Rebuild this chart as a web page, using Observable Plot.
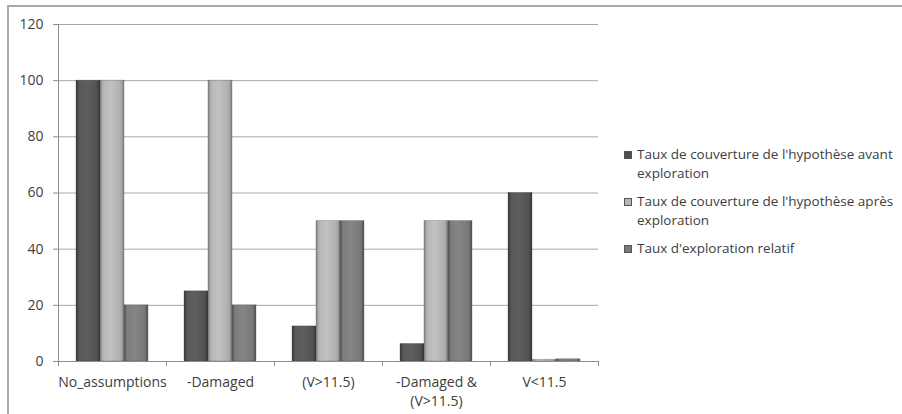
<!DOCTYPE html>
<html>
<head>
<meta charset="utf-8">
<script src="https://cdn.jsdelivr.net/npm/d3@7"></script>
<script src="https://cdn.jsdelivr.net/npm/@observablehq/plot@0.6"></script>
<style>
  html, body { margin: 0; padding: 0; background: #fff; }
  #wrap { position: relative; width: 902px; height: 414px; overflow: hidden; font-family: "Open Sans", sans-serif; }
  #border { position: absolute; left: 7px; top: 5px; width: 900px; height: 420px; border-top: 2px solid #a8a8a8; border-left: 2px solid #a8a8a8; box-sizing: border-box; }
  #chart { position: absolute; left: 0; top: 0; }
  #legend { position: absolute; left: 624px; top: 145px; width: 278px; font-size: 13.5px; color: #404040; line-height: 18.5px; }
  .item { display: flex; align-items: flex-start; margin-bottom: 10px; }
  .sw { width: 8px; height: 8px; margin-top: 6px; margin-right: 5px; flex: none; box-sizing: border-box; }
</style>
</head>
<body>
<div id="wrap">
  <div id="border"></div>
  <div id="chart"></div>
  <div id="legend"></div>
</div>
<script>
const categories = ["No_assumptions", "-Damaged", "(V>11.5)", "-Damaged & (V>11.5)", "V<11.5"];
const categoryLabels = ["No_assumptions", "-Damaged", "(V>11.5)", "-Damaged &\n(V>11.5)", "V<11.5"];
const seriesNames = [
  "Taux de couverture de l'hypothèse avant exploration",
  "Taux de couverture de l'hypothèse après exploration",
  "Taux d'exploration relatif"
];
const coverageBefore = [100, 25, 12.5, 6.25, 60];
const coverageAfter = [100, 100, 50, 50, 0.6];
const explorationRate = [20, 20, 50, 50, 0.8];
const yTicks = [0, 20, 40, 60, 80, 100, 120];

const seriesValues = [coverageBefore, coverageAfter, explorationRate];
const gradIds = ["gDark", "gLight", "gMid"];
const swatchColors = ["#4e4e4e", "#b4b4b4", "#7a7a7a"];

const data = [];
categories.forEach((c, i) => {
  seriesNames.forEach((s, j) => data.push({category: c, series: s, value: seriesValues[j][i]}));
});

const chart = Plot.plot({
  width: 902,
  height: 414,
  marginLeft: 57,
  marginRight: 303,
  marginTop: 24,
  marginBottom: 53,
  style: {fontFamily: "Open Sans, sans-serif", fontSize: "14px", color: "#404040", background: "transparent", overflow: "visible"},
  fx: {domain: categories, paddingInner: 0, paddingOuter: 0, label: null},
  x: {domain: seriesNames, paddingInner: 0, paddingOuter: 0.707, axis: null},
  y: {domain: [0, 120], label: null},
  color: {domain: seriesNames, range: gradIds.map(id => `url(#${id})`)},
  marks: [
    Plot.ruleY(yTicks.slice(1), {stroke: "#a8a8a8", strokeWidth: 1}),
    Plot.barY(data, {fx: "category", x: "series", y: "value", fill: "series", stroke: "#3a3a3a", strokeOpacity: 0.35, strokeWidth: 0.8}),
    Plot.ruleY([0], {stroke: "#8c8c8c", strokeWidth: 1}),
    Plot.axisY({ticks: yTicks, tickSize: 5, tickPadding: 10, stroke: "#8c8c8c", fill: "#404040", label: null}),
    Plot.axisFx({anchor: "bottom", tickSize: 0, tickPadding: 13, tickFormat: (d) => categoryLabels[categories.indexOf(d)], lineHeight: 1.3, fill: "#404040", label: null})
  ]
});

// gradient definitions for cylinder-like shading
const svg = d3.select(chart);
const defs = svg.insert("defs", ":first-child");
const gradStops = {
  gDark: ["#383838", "#585858", "#5f5f5f", "#525252", "#363636"],
  gLight: ["#858585", "#b6b6b6", "#c2c2c2", "#aeaeae", "#828282"],
  gMid: ["#555555", "#7e7e7e", "#868686", "#787878", "#525252"]
};
const offs = ["0%", "14%", "45%", "86%", "100%"];
for (const id of gradIds) {
  const g = defs.append("linearGradient").attr("id", id).attr("x1", "0").attr("x2", "1").attr("y1", "0").attr("y2", "0");
  gradStops[id].forEach((c, k) => g.append("stop").attr("offset", offs[k]).attr("stop-color", c));
}

// y axis line and category boundary ticks from the scales
const fx = chart.scale("fx");
const y = chart.scale("y");
const y0 = y.apply(0), yTop = y.apply(120);
const left = fx.apply(categories[0]);
const g = svg.append("g").attr("stroke", "#8c8c8c").attr("stroke-width", 1);
g.append("line").attr("x1", left + 0.5).attr("x2", left + 0.5).attr("y1", yTop).attr("y2", y0 + 0.5);
categories.forEach((c) => {
  const xe = fx.apply(c);
  g.append("line").attr("x1", xe + 0.5).attr("x2", xe + 0.5).attr("y1", y0).attr("y2", y0 + 5);
});
const xr = fx.apply(categories[categories.length - 1]) + fx.bandwidth;
g.append("line").attr("x1", xr + 0.5).attr("x2", xr + 0.5).attr("y1", y0).attr("y2", y0 + 5);

document.getElementById("chart").appendChild(chart);

// legend
const legend = d3.select("#legend");
seriesNames.forEach((s, j) => {
  const it = legend.append("div").attr("class", "item");
  it.append("div").attr("class", "sw").style("background", swatchColors[j]).style("border", "1px solid #555");
  it.append("div").text(s);
});
</script>
</body>
</html>
